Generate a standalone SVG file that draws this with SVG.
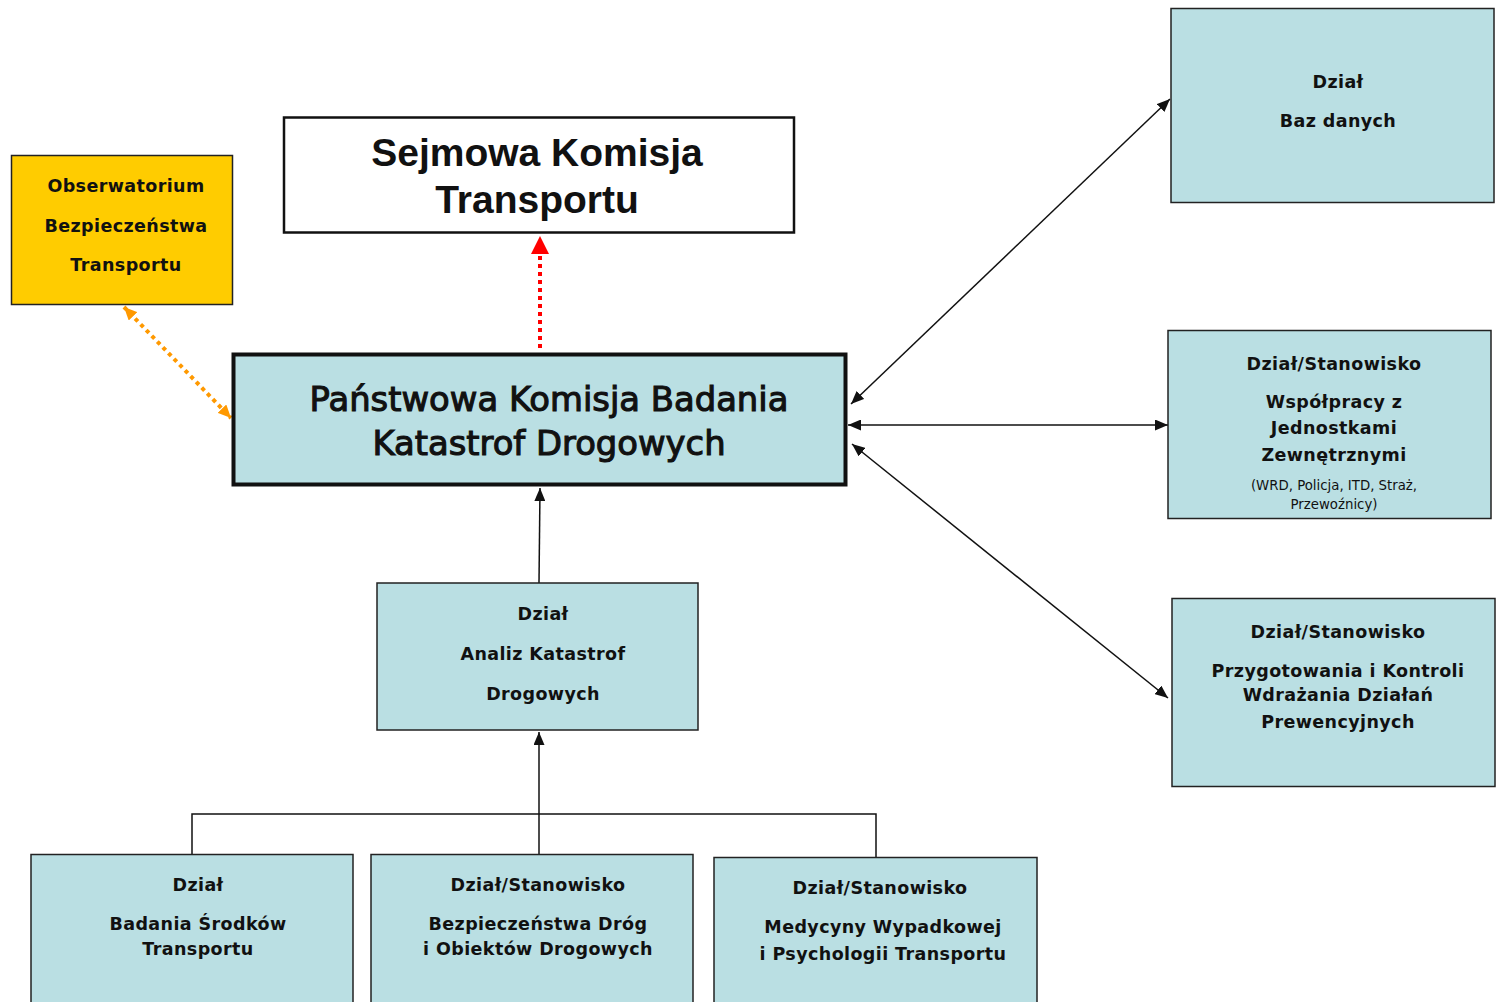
<svg xmlns="http://www.w3.org/2000/svg" width="1499" height="1002" viewBox="0 0 1499 1002">
<defs>
<style>
.box{fill:#BADFE3;stroke:#222;stroke-width:1.5}
.t{font-family:"DejaVu Sans",Verdana,sans-serif;font-weight:bold;font-size:17.5px;letter-spacing:0.4px;fill:#111;text-anchor:middle}
.s{font-family:"DejaVu Sans",Verdana,sans-serif;font-size:13.3px;fill:#111;text-anchor:middle}
.main{font-family:"DejaVu Sans",Verdana,sans-serif;font-size:33.8px;fill:#111;stroke:#111;stroke-width:1.1;text-anchor:middle}
.sej{font-family:"Liberation Sans",Arial,sans-serif;font-weight:bold;font-size:39px;fill:#111;text-anchor:middle}
.ln{stroke:#111;stroke-width:1.5;fill:none}
</style>
<marker id="ab" markerUnits="userSpaceOnUse" markerWidth="13" markerHeight="11" refX="13" refY="5.5" orient="auto-start-reverse" viewBox="0 0 13 11">
<path d="M0,0 L13,5.5 L0,11 z" fill="#111"/>
</marker>
<marker id="ar" markerUnits="userSpaceOnUse" markerWidth="18" markerHeight="18" refX="18" refY="9" orient="auto" viewBox="0 0 18 18">
<path d="M0,0 L18,9 L0,18 z" fill="#FF0000"/>
</marker>
<marker id="ao" markerUnits="userSpaceOnUse" markerWidth="13" markerHeight="12" refX="13" refY="6" orient="auto-start-reverse" viewBox="0 0 13 12">
<path d="M0,0 L13,6 L0,12 z" fill="#FF9900"/>
</marker>
</defs>
<rect width="1499" height="1002" fill="#fff"/>

<g id="connectors">
<line x1="540" y1="348" x2="540" y2="236" stroke="#FF0000" stroke-width="4" stroke-dasharray="4,4" marker-end="url(#ar)"/>
<line x1="124" y1="307" x2="231" y2="418" stroke="#FF9900" stroke-width="4" stroke-dasharray="4,4" marker-start="url(#ao)" marker-end="url(#ao)"/>
<line class="ln" x1="539" y1="583" x2="540" y2="488" marker-end="url(#ab)"/>
<line class="ln" x1="539" y1="860" x2="539" y2="732" marker-end="url(#ab)"/>
<polyline class="ln" points="192,854 192,814 876,814 876,857"/>
<line class="ln" x1="851" y1="404" x2="1170" y2="99" marker-start="url(#ab)" marker-end="url(#ab)"/>
<line class="ln" x1="848" y1="425" x2="1168" y2="425" marker-start="url(#ab)" marker-end="url(#ab)"/>
<line class="ln" x1="852" y1="444" x2="1168" y2="698" marker-start="url(#ab)" marker-end="url(#ab)"/>
</g>

<g id="obserwatorium">
<rect x="11.5" y="155.5" width="221" height="149" fill="#FFCC00" stroke="#222" stroke-width="1.5"/>
<text class="t" x="126" y="192">Obserwatorium</text>
<text class="t" x="126" y="232">Bezpieczeństwa</text>
<text class="t" x="126" y="271">Transportu</text>
</g>

<g id="sejmowa">
<rect x="284" y="117.5" width="510" height="115" fill="#fff" stroke="#111" stroke-width="2.5"/>
<text class="sej" x="537" y="166">Sejmowa Komisja</text>
<text class="sej" x="537" y="213">Transportu</text>
</g>

<g id="pkbkd">
<rect x="233.5" y="354.5" width="612" height="130" fill="#BADFE3" stroke="#111" stroke-width="4"/>
<text class="main" x="549" y="411">Państwowa Komisja Badania</text>
<text class="main" x="549" y="455">Katastrof Drogowych</text>
</g>

<g id="baz-danych">
<rect class="box" x="1171" y="8.5" width="323" height="194"/>
<text class="t" x="1338" y="88">Dział</text>
<text class="t" x="1338" y="127">Baz danych</text>
</g>

<g id="wspolpracy">
<rect class="box" x="1168" y="330.5" width="323" height="188"/>
<text class="t" x="1334" y="370">Dział/Stanowisko</text>
<text class="t" x="1334" y="408">Współpracy z</text>
<text class="t" x="1334" y="434">Jednostkami</text>
<text class="t" x="1334" y="461">Zewnętrznymi</text>
<text class="s" x="1334" y="490">(WRD, Policja, ITD, Straż,</text>
<text class="s" x="1334" y="509">Przewoźnicy)</text>
</g>

<g id="przygotowania">
<rect class="box" x="1172" y="598.5" width="323" height="188"/>
<text class="t" x="1338" y="638">Dział/Stanowisko</text>
<text class="t" x="1338" y="677">Przygotowania i Kontroli</text>
<text class="t" x="1338" y="701">Wdrażania Działań</text>
<text class="t" x="1338" y="728">Prewencyjnych</text>
</g>

<g id="analiz">
<rect class="box" x="377" y="583" width="321" height="147"/>
<text class="t" x="543" y="620">Dział</text>
<text class="t" x="543" y="660">Analiz Katastrof</text>
<text class="t" x="543" y="700">Drogowych</text>
</g>

<g id="badania-srodkow">
<rect class="box" x="31" y="854.5" width="322" height="160"/>
<text class="t" x="198" y="891">Dział</text>
<text class="t" x="198" y="930">Badania Środków</text>
<text class="t" x="198" y="955">Transportu</text>
</g>

<g id="bezpieczenstwa-drog">
<rect class="box" x="371" y="854.5" width="322" height="160"/>
<text class="t" x="538" y="891">Dział/Stanowisko</text>
<text class="t" x="538" y="930">Bezpieczeństwa Dróg</text>
<text class="t" x="538" y="955">i Obiektów Drogowych</text>
</g>

<g id="medycyny">
<rect class="box" x="714" y="857.5" width="323" height="160"/>
<text class="t" x="880" y="894">Dział/Stanowisko</text>
<text class="t" x="883" y="933">Medycyny Wypadkowej</text>
<text class="t" x="883" y="960">i Psychologii Transportu</text>
</g>
</svg>
